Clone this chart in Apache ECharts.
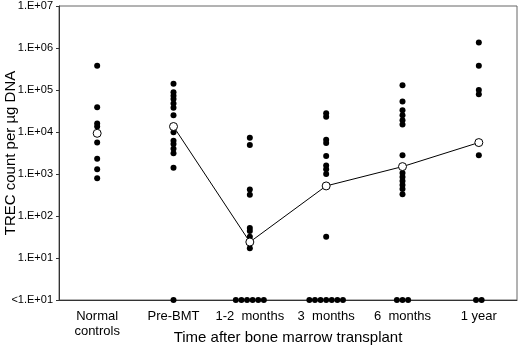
<!DOCTYPE html>
<html>
<head>
<meta charset="utf-8">
<script src="https://cdn.jsdelivr.net/npm/echarts@6/dist/echarts.min.js"></script>
<style>
  html, body { margin: 0; padding: 0; background: #fff; }
  #main { width: 520px; height: 345px; }
</style>
</head>
<body>
<div id="main"></div>
<script>
// groups along the x axis
var categories = ['Normal\ncontrols', 'Pre-BMT', '1-2  months', '3  months', '6  months', '1 year'];

// TREC counts per ug DNA (detectable values), one list per group
var normalControls = [3.8e5, 3.9e4, 1.6e4, 1.35e4, 5.6e3, 2.3e3, 1.3e3, 790];
var preBMT = [1.4e5, 8.9e4, 7.3e4, 6.1e4, 4.8e4, 3.8e4, 2.5e4, 1.35e4, 9.8e3, 6.2e3, 5.2e3, 4.0e3, 3.1e3, 1.4e3];
var months1to2 = [7.3e3, 4.9e3, 430, 320, 52, 44, 32, 17];
var months3 = [2.8e4, 2.3e4, 6.5e3, 5.5e3, 2.7e3, 1.6e3, 1.3e3, 1.0e3, 32];
var months6 = [1.3e5, 5.3e4, 3.3e4, 2.5e4, 1.9e4, 1.5e4, 2.8e3, 1050, 850, 680, 550, 440, 330];
var year1 = [1.35e6, 3.8e5, 1.0e5, 7.9e4, 2.8e3];

// number of samples below detection (<10) per group
var belowDetection = [0, 1, 6, 7, 3, 2];

// group means (open circles)
var means = [9.3e3, 1.35e4, 24, 520, 1.5e3, 5.6e3];

var yTicks = ['<1.E+01', '1.E+01', '1.E+02', '1.E+03', '1.E+04', '1.E+05', '1.E+06', '1.E+07'];

var groups = [normalControls, preBMT, months1to2, months3, months6, year1];

var pointData = [];
groups.forEach(function (vals, i) {
  vals.forEach(function (v) {
    pointData.push([i, Math.log10(v)]);
  });
  var n = belowDetection[i];
  for (var k = 0; k < n; k++) {
    // spread the undetectable samples side by side on the floor
    pointData.push({ value: [i, 0], symbolOffset: [(k - (n - 1) / 2) * 5.6, 0] });
  }
});

var meanData = means.map(function (m, i) { return [i, Math.log10(m)]; });
var lineData = meanData.slice(1);

var myChart = echarts.init(document.getElementById('main'));

var option = {
  animation: false,
  textStyle: { fontFamily: 'Liberation Sans, Arial, sans-serif', color: '#000' },
  grid: {
    left: 59, right: 3, top: 6, bottom: 45,
    outerBoundsMode: 'none',
    containLabel: false,
    show: true, borderColor: '#666', borderWidth: 1
  },
  xAxis: {
    type: 'category',
    data: categories,
    boundaryGap: true,
    axisLine: { lineStyle: { color: '#333', width: 1 } },
    axisTick: { show: false },
    axisLabel: { fontSize: 13, color: '#000', margin: 9, lineHeight: 15, interval: 0 },
    name: 'Time after bone marrow transplant',
    nameLocation: 'middle',
    nameGap: 30,
    nameMoveOverlap: false,
    nameTextStyle: { fontSize: 15, color: '#000' }
  },
  yAxis: {
    type: 'value',
    min: 0, max: 7, interval: 1,
    axisLine: { show: true, lineStyle: { color: '#333', width: 1 } },
    axisTick: { show: true, length: 3, lineStyle: { color: '#333' } },
    splitLine: { show: false },
    axisLabel: {
      fontSize: 11, color: '#000', margin: 6,
      formatter: function (v) { return yTicks[v]; }
    },
    name: 'TREC count per µg DNA',
    nameLocation: 'middle',
    nameGap: 41,
    nameMoveOverlap: false,
    nameTextStyle: { fontSize: 15, color: '#000' }
  },
  series: [
    {
      type: 'scatter',
      data: pointData,
      symbol: 'circle',
      symbolSize: 6,
      clip: false,
      itemStyle: { color: '#000', opacity: 1 },
      z: 2
    },
    {
      type: 'line',
      data: lineData,
      showSymbol: false,
      lineStyle: { color: '#000', width: 1 },
      z: 3
    },
    {
      type: 'scatter',
      data: meanData,
      symbol: 'circle',
      symbolSize: 8,
      itemStyle: { color: '#fff', borderColor: '#000', borderWidth: 1, opacity: 1 },
      z: 4
    }
  ]
};
myChart.setOption(option);
</script>
</body>
</html>
